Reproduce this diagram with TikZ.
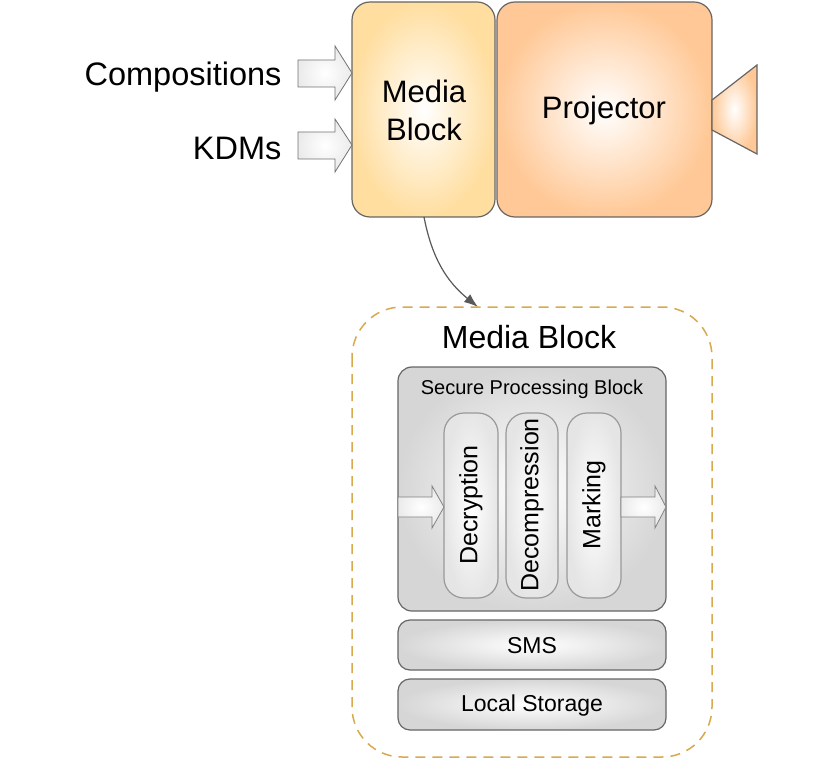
\documentclass[tikz,border=0pt]{standalone}
\usepackage{fontspec}
\setmainfont{Liberation Sans}
\usetikzlibrary{arrows.meta}
\definecolor{mbc}{RGB}{255,222,160}
\definecolor{pjc}{RGB}{255,200,150}
\begin{document}
\begin{tikzpicture}[x=1pt,y=-1pt,
 box/.style={draw=black!60,line width=1.2pt,rounded corners=18pt},
 gbox/.style={draw=black!60,line width=1.2pt,rounded corners=14pt,inner color=white,outer color=black!16},
 pill/.style={draw=black!40,line width=1.2pt,rounded corners=20pt,inner color=white,outer color=black!10},
 fat/.style={draw=black!55,line width=0.8pt,fill=white,inner color=white,outer color=black!8}]
\useasboundingbox (0,0) rectangle (840,767);
\fill[white] (0,0) rectangle (840,767);
% top
\path[box,inner color=white,outer color=mbc] (352,2) rectangle (495,217);
\node (mb) at (424,110) [align=center,font=\fontsize{31}{38}\selectfont] {Media\\Block};
\path[box,inner color=white,outer color=pjc] (497,2) rectangle (712,217);
\node (pj) at (604,110) [font=\fontsize{31}{36}\selectfont] {Projector};
\path[draw=black!60,line width=1.2pt,inner color=white,outer color=pjc] (712,100)--(757,65)--(757,154)--(712,130)--cycle;
\path[fat] (298,60)--(335,60)--(335,46)--(352,73)--(335,100)--(335,87)--(298,87)--cycle;
\path[fat] (298,132)--(335,132)--(335,119)--(352,145)--(335,172)--(335,159)--(298,159)--cycle;
\node (comp) [anchor=east,font=\fontsize{32.5}{36}\selectfont] at (285,77) {Compositions};
\node (kdm) [anchor=east,font=\fontsize{32.5}{36}\selectfont] at (285,148) {KDMs};
\coordinate (s) at (424,217);
\coordinate (t) at (478,307);
\draw[black!65,line width=1.2pt,-{Latex[length=14pt,width=10pt]}] (s) to[bend right=20] (t);
% lower
\draw[draw={rgb,255:red,217;green,169;blue,78},line width=1.5pt,dash pattern=on 10pt off 7pt,rounded corners=50pt] (352,307) rectangle (712,757);
\node (t2) at (529,337) [font=\fontsize{32}{36}\selectfont] {Media Block};
\path[gbox] (398,367) rectangle (666,611);
\node (spb) at (532,389) [font=\fontsize{20}{23}\selectfont] {Secure Processing Block};
\path[pill] (444,413) rectangle (498,598);
\path[pill] (506,413) rectangle (558,598);
\path[pill] (567,413) rectangle (621,598);
\node (d1) at (471,505) [rotate=90,font=\fontsize{25}{28}\selectfont] {Decryption};
\node (d2) at (532,505) [rotate=90,font=\fontsize{25}{28}\selectfont] {Decompression};
\node (d3) at (594,505) [rotate=90,font=\fontsize{25}{28}\selectfont] {Marking};
\path[fat,draw=black!50] (398,497)--(432,497)--(432,486)--(444,507)--(432,528)--(432,517)--(398,517)--cycle;
\path[fat,draw=black!50] (621,497)--(655,497)--(655,486)--(666,507)--(655,528)--(655,517)--(621,517)--cycle;
\path[gbox,rounded corners=12pt] (398,620) rectangle (666,670);
\node (sms) at (532,646) [font=\fontsize{23}{27}\selectfont] {SMS};
\path[gbox,rounded corners=12pt] (398,679) rectangle (666,730);
\node (ls) at (532,706) [font=\fontsize{23}{27}\selectfont] {Local Storage};
\end{tikzpicture}
\end{document}
